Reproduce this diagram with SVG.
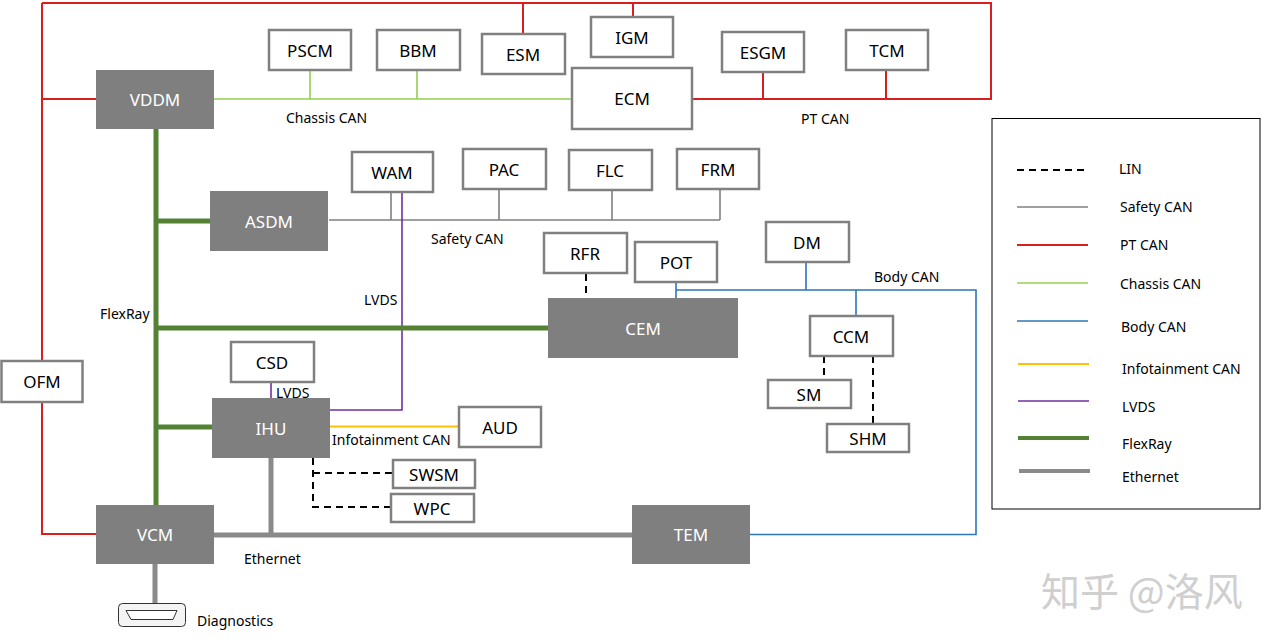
<svg xmlns="http://www.w3.org/2000/svg" width="1273" height="642" viewBox="0 0 1273 642">
<style>
text{font-family:"Noto Sans","Liberation Sans",Arial,sans-serif}
.nd rect{fill:#fff;stroke:#808080;stroke-width:2.5}
.nd text{fill:#000;font-size:17px;text-anchor:middle;dominant-baseline:central}
.dk rect{fill:#7f7f7f;stroke:none}
.dk text{fill:#fff;font-size:17px;text-anchor:middle;dominant-baseline:central}
.lb{font-size:14px;fill:#000;dominant-baseline:central}
.pt{stroke:#d81e1e;stroke-width:2;fill:none}
.ch{stroke:#92d050;stroke-width:1.6;fill:none}
.sf{stroke:#808080;stroke-width:1.6;fill:none}
.bd{stroke:#2e75b6;stroke-width:1.6;fill:none}
.inf{stroke:#ffc000;stroke-width:2;fill:none}
.lv{stroke:#7030a0;stroke-width:1.6;fill:none}
.fr{stroke:#548235;stroke-width:5;fill:none}
.et{stroke:#8a8a8a;stroke-width:5;fill:none}
.lin{stroke:#000;stroke-width:2;stroke-dasharray:7 5;fill:none}
</style>
<rect x="0" y="0" width="1273" height="642" fill="#fff"/>
<g id="connectors">
<path class="pt" d="M42,3 H991 V99 H692 M42,3 V534 H96 M42,99 H96 M523,3 V34 M633,3 V17 M763,72 V99 M886,70 V99"/>
<path class="ch" d="M214,99 H572 M310,71 V99 M417,70 V99"/>
<path class="sf" d="M329,220 H720 M391,192 V220 M499,189 V220 M612,190 V220 M720,189 V220"/>
<path class="lv" d="M402,192 V410 H330 M271,382 V398"/>
<path class="inf" d="M330,426.5 H459"/>
<path class="fr" d="M156,129 V505 M156,221 H210 M156,328 H548 M156,427 H212"/>
<path class="et" d="M214,535 H632 M271,458 V535 M155,564 V603"/>
<path class="bd" d="M676,282 V298 M676,290 H976 V534.5 H750 M806,262 V290 M856,290 V316"/>
<path class="lin" d="M313,458 V507 H391 M313,473 H393 M586,274 V298 M824,356 V380 M873,356 V424"/>
</g>
<g id="bus-labels">
<text class="lb" x="286" y="117">Chassis CAN</text>
<text class="lb" x="801" y="118">PT CAN</text>
<text class="lb" x="431" y="238">Safety CAN</text>
<text class="lb" x="874" y="276">Body CAN</text>
<text class="lb" x="100" y="313">FlexRay</text>
<text class="lb" x="364" y="299">LVDS</text>
<text class="lb" x="276" y="392">LVDS</text>
<text class="lb" x="332" y="439">Infotainment CAN</text>
<text class="lb" x="244" y="558">Ethernet</text>
<text class="lb" x="197" y="620">Diagnostics</text>
</g>
<g id="PSCM" class="nd"><rect x="269" y="30" width="82" height="40"/><text x="310" y="50">PSCM</text></g>
<g id="BBM" class="nd"><rect x="377" y="30" width="83" height="40"/><text x="418" y="50">BBM</text></g>
<g id="ESM" class="nd"><rect x="482" y="34" width="83" height="40"/><text x="523" y="54">ESM</text></g>
<g id="IGM" class="nd"><rect x="591" y="17" width="82" height="40"/><text x="632" y="37">IGM</text></g>
<g id="ESGM" class="nd"><rect x="722" y="32" width="82" height="40"/><text x="763" y="52">ESGM</text></g>
<g id="TCM" class="nd"><rect x="846" y="30" width="82" height="40"/><text x="887" y="50">TCM</text></g>
<g id="ECM" class="nd"><rect x="572" y="68" width="120" height="61"/><text x="632" y="98">ECM</text></g>
<g id="VDDM" class="dk"><rect x="96" y="70" width="118" height="59"/><text x="155" y="99">VDDM</text></g>
<g id="WAM" class="nd"><rect x="352" y="152" width="81" height="40"/><text x="392" y="172">WAM</text></g>
<g id="PAC" class="nd"><rect x="463" y="149" width="83" height="40"/><text x="504" y="169">PAC</text></g>
<g id="FLC" class="nd"><rect x="569" y="150" width="83" height="40"/><text x="610" y="170">FLC</text></g>
<g id="FRM" class="nd"><rect x="677" y="149" width="82" height="40"/><text x="718" y="169">FRM</text></g>
<g id="ASDM" class="dk"><rect x="210" y="191" width="118" height="60"/><text x="269" y="221">ASDM</text></g>
<g id="DM" class="nd"><rect x="766" y="222" width="83" height="40"/><text x="807" y="242">DM</text></g>
<g id="RFR" class="nd"><rect x="544" y="233" width="83" height="40"/><text x="585" y="253">RFR</text></g>
<g id="POT" class="nd"><rect x="635" y="242" width="82" height="40"/><text x="676" y="262">POT</text></g>
<g id="CEM" class="dk"><rect x="548" y="298" width="190" height="60"/><text x="643" y="328">CEM</text></g>
<g id="CCM" class="nd"><rect x="810" y="316" width="83" height="40"/><text x="851" y="336">CCM</text></g>
<g id="SM" class="nd"><rect x="768" y="380" width="83" height="28"/><text x="809" y="394">SM</text></g>
<g id="SHM" class="nd"><rect x="827" y="424" width="82" height="28"/><text x="868" y="438">SHM</text></g>
<g id="OFM" class="nd"><rect x="1.5" y="361" width="81" height="41"/><text x="42" y="381">OFM</text></g>
<g id="CSD" class="nd"><rect x="231" y="342" width="83" height="40"/><text x="272" y="362">CSD</text></g>
<g id="IHU" class="dk"><rect x="212" y="398" width="118" height="60"/><text x="271" y="428">IHU</text></g>
<g id="AUD" class="nd"><rect x="459" y="407" width="82" height="40"/><text x="500" y="427">AUD</text></g>
<g id="SWSM" class="nd"><rect x="393" y="460" width="82" height="28"/><text x="434" y="474">SWSM</text></g>
<g id="WPC" class="nd"><rect x="391" y="494" width="83" height="28"/><text x="432" y="508">WPC</text></g>
<g id="VCM" class="dk"><rect x="96" y="505" width="118" height="59"/><text x="155" y="534">VCM</text></g>
<g id="TEM" class="dk"><rect x="632" y="505" width="118" height="59"/><text x="691" y="534">TEM</text></g>
<g id="Diagnostics">
<rect x="118.5" y="603.5" width="67" height="23" rx="4" fill="#f4f4f4" stroke="#333" stroke-width="1"/>
<path d="M126,610.5 H177 L173,619.5 H131 Z" fill="#fff" stroke="#333" stroke-width="1"/>
</g>
<g id="legend">
<rect x="992" y="118.5" width="268" height="390.5" fill="#fff" stroke="#000" stroke-width="1"/>
<path class="lin" d="M1017,170 H1088"/>
<path class="sf" d="M1017,207 H1088"/>
<path class="pt" d="M1017,245 H1088"/>
<path class="ch" d="M1017,283 H1088"/>
<path class="bd" d="M1017,321 H1088"/>
<path class="inf" d="M1018,364 H1089"/>
<path class="lv" d="M1018,401 H1089"/>
<path stroke="#548235" stroke-width="4" d="M1018,438 H1089"/>
<path stroke="#8a8a8a" stroke-width="4" d="M1019,471 H1090"/>
<text class="lb" x="1119" y="168">LIN</text>
<text class="lb" x="1120" y="206">Safety CAN</text>
<text class="lb" x="1120" y="244">PT CAN</text>
<text class="lb" x="1120" y="283">Chassis CAN</text>
<text class="lb" x="1121" y="326">Body CAN</text>
<text class="lb" x="1122" y="368">Infotainment CAN</text>
<text class="lb" x="1122" y="406">LVDS</text>
<text class="lb" x="1122" y="443">FlexRay</text>
<text class="lb" x="1122" y="476">Ethernet</text>
</g>
<g id="watermark">
<text x="1041" y="606" font-size="39" fill="#cfcfcf" style='font-family:"Noto Sans CJK SC","Noto Sans",sans-serif'>知乎 @洛风</text>
</g>
</svg>
